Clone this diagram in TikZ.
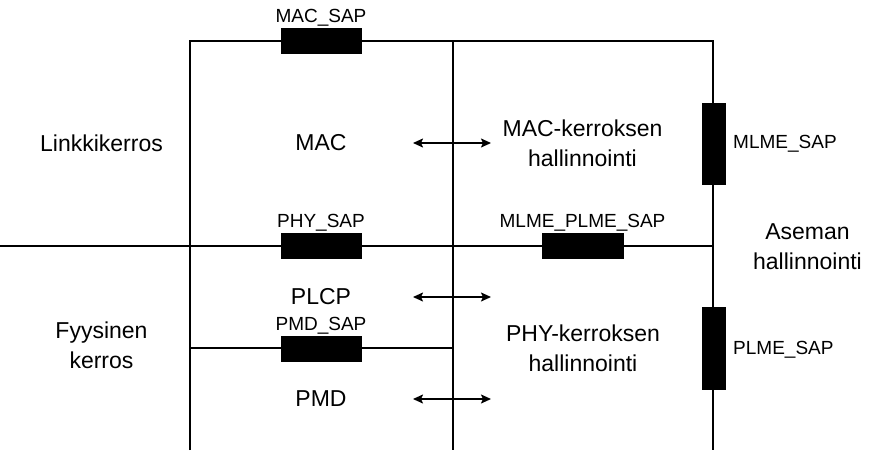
\documentclass[tikz,border=0pt]{standalone}
\usepackage{fontspec}
\setmainfont{Liberation Sans}
\usetikzlibrary{arrows.meta}
\begin{document}
\begin{tikzpicture}[x=1pt,y=-1pt,
  wire/.style={line width=1.6pt, black},
  sapbox/.style={draw=black, fill=black, line width=0.8pt, inner sep=0pt, minimum width=80pt, minimum height=25pt},
  vsapbox/.style={sapbox, minimum width=23pt, minimum height=81pt},
  txt/.style={font=\fontsize{23}{30}\selectfont, align=center, inner sep=0pt},
  lbl/.style={font=\fontsize{19}{22}\selectfont, inner sep=0pt},
  biarrow/.style={line width=1.6pt, {Stealth[length=10pt,width=9pt,inset=2pt]}-{Stealth[length=10pt,width=9pt,inset=2pt]}}]
\useasboundingbox (0,0) rectangle (890,450);
% frame coordinates
\coordinate (TL) at (190,41);
\coordinate (TM) at (453,41);
\coordinate (TR) at (713,41);
\coordinate (BL) at (190,450);
\coordinate (BM) at (453,450);
\coordinate (BR) at (713,450);
\coordinate (HL) at (0,246);
\coordinate (HR) at (713,246);
\coordinate (PL) at (190,348);
\coordinate (PR) at (453,348);
% wires
\draw[wire] (BL) -- (TL) -- (TR) -- (BR);
\draw[wire] (TM) -- (BM);
\draw[wire] (HL) -- (HR);
\draw[wire] (PL) -- (PR);
% SAP boxes
\node[sapbox] (macsap) at (321,41) {};
\node[sapbox] (physap) at (321,246) {};
\node[sapbox, minimum width=81pt] (mlmeplmesap) at (582.5,246) {};
\node[sapbox] (pmdsap) at (321,348.5) {};
\node[vsapbox] (mlmesap) at (713.5,143.5) {};
\node[vsapbox, minimum height=82pt] (plmesap) at (713.5,348) {};
% SAP labels
\node[lbl, anchor=base] (macsapl) at (321,22) {MAC\_SAP};
\node[lbl, anchor=base] (physapl) at (321,227) {PHY\_SAP};
\node[lbl, anchor=base] (mlmeplmesapl) at (582.5,227) {MLME\_PLME\_SAP};
\node[lbl, anchor=base] (pmdsapl) at (321,330) {PMD\_SAP};
\node[lbl, anchor=base west] (mlmesapl) at (733,148) {MLME\_SAP};
\node[lbl, anchor=base west] (plmesapl) at (733,354) {PLME\_SAP};
% main texts
\node[txt] (link) at (101.5,143.5) {Linkkikerros};
\node[txt] (fyys) at (101.5,345.5) {Fyysinen\\kerros};
\node[txt] (mac) at (321,142.5) {MAC};
\node[txt] (plcp) at (321,296.5) {PLCP};
\node[txt] (pmd) at (321,399) {PMD};
\node[txt] (macmgmt) at (582.5,143) {MAC-kerroksen\\hallinnointi};
\node[txt] (phymgmt) at (583,348) {PHY-kerroksen\\hallinnointi};
\node[txt] (aseman) at (807.5,247) {Aseman\\hallinnointi};
% arrows
\coordinate (a1l) at (413,143);
\coordinate (a1r) at (491,143);
\coordinate (a2l) at (413,297);
\coordinate (a2r) at (491,297);
\coordinate (a3l) at (413,399);
\coordinate (a3r) at (491,399);
\draw[biarrow] (a1l) -- (a1r);
\draw[biarrow] (a2l) -- (a2r);
\draw[biarrow] (a3l) -- (a3r);
\end{tikzpicture}
\end{document}
